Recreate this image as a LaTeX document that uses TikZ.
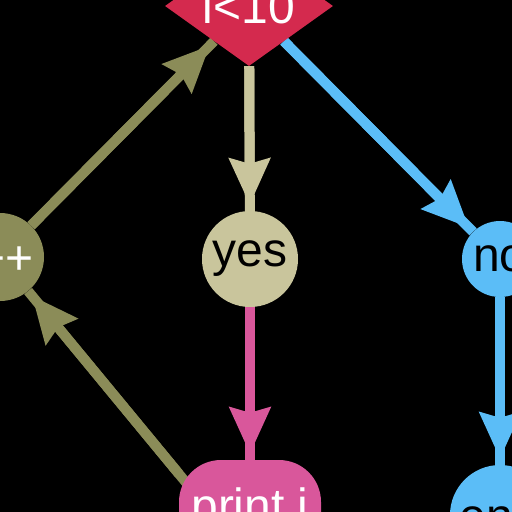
\documentclass[tikz,border=0pt]{standalone}
\usepackage{fontspec}
\setmainfont{Liberation Sans}
\usetikzlibrary{shapes.geometric,arrows.meta}
\pgfdeclarelayer{bg}
\pgfsetlayers{bg,main}
\definecolor{cred}{HTML}{D42A4E}
\definecolor{cbeige}{HTML}{C9C59C}
\definecolor{colive}{HTML}{8B8C58}
\definecolor{cblue}{HTML}{5BBDF7}
\definecolor{cpink}{HTML}{D9579B}
\tikzset{
  lbl/.style={font=\fontsize{48pt}{52pt}\selectfont, inner sep=0pt},
  circ/.style={lbl, circle},
  ln/.style={line width=10pt},
  arr/.style={line width=10pt, -{Stealth[length=46pt,width=40pt,inset=5pt]}, shorten >=6pt},
}
\begin{document}
\begin{tikzpicture}[x=1pt,y=-1pt]
\useasboundingbox (0,0) rectangle (512,512);
\node[lbl, diamond, shape aspect=1.4, fill=cred, text=white, minimum width=168pt, minimum height=120pt] (cond) at (249,6) {i<10};
\node[circ, fill=cbeige, text=black, minimum size=96pt] (yes) at (250,259) {yes};
\node[circ, fill=colive, text=white, minimum size=88pt] (inc) at (0,257) {i++};
\node[circ, fill=cblue, text=black, minimum size=76pt] (no) at (500,259) {no};
\node[circ, fill=cblue, text=black, minimum size=100pt] (end) at (500,515) {end};
\node[lbl, rectangle, rounded corners=42pt, fill=cpink, text=white, minimum width=142pt, minimum height=100pt] (print) at (250,510) {print i};
\begin{pgfonlayer}{bg}
\fill[black] (-20,-20) rectangle (532,532);
\draw[ln, cbeige] (cond) -- (yes);
\draw[arr, cbeige] (cond) -- (yes);
\draw[ln, cblue] (cond) -- (no);
\draw[arr, cblue] (cond) -- (no);
\draw[ln, colive] (inc) -- (cond);
\draw[arr, colive] (inc) -- (cond);
\draw[ln, cpink] (yes) -- (print);
\draw[arr, cpink] (yes) -- (print);
\draw[ln, cblue] (no) -- (end);
\draw[arr, cblue] (no) -- (end);
\draw[ln, colive, shorten <=-14pt] (print.153) -- (inc);
\draw[arr, colive] (print.153) -- (inc);
\end{pgfonlayer}
\end{tikzpicture}
\end{document}
